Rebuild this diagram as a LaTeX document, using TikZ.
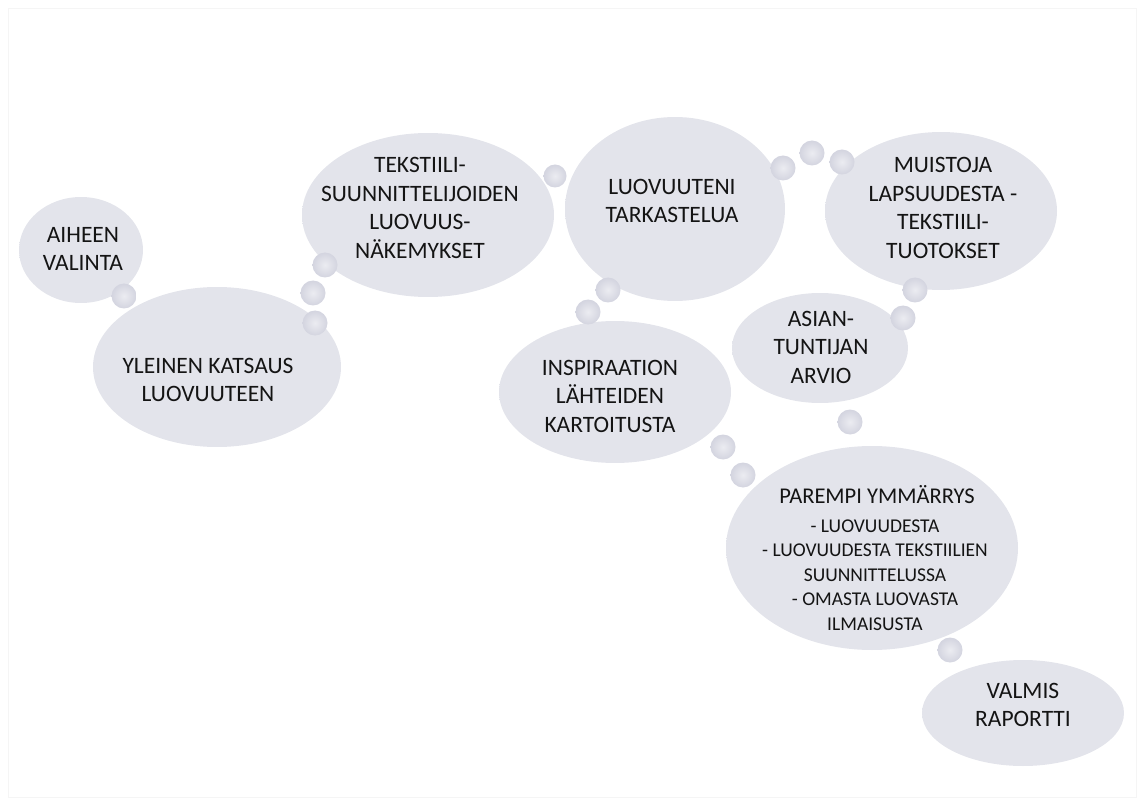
\documentclass[tikz,border=0pt]{standalone}
\usepackage{fontspec}
\setmainfont{Carlito}
\usetikzlibrary{shapes.geometric}
\definecolor{cloudc}{RGB}{219,220,229}
\definecolor{cloudl}{RGB}{227,228,235}
\definecolor{bubc}{RGB}{212,213,224}
\definecolor{txt}{RGB}{20,20,20}
\pgfdeclareradialshading{cloudsh}{\pgfpoint{0bp}{0bp}}{color(0bp)=(cloudl); color(26bp)=(cloudl); color(38bp)=(cloudc); color(44bp)=(cloudc!75!white); color(50bp)=(white); color(100bp)=(white)}
\pgfdeclareradialshading{bubsh}{\pgfpoint{0bp}{0bp}}{color(0bp)=(cloudl!70!white); color(24bp)=(bubc); color(40bp)=(bubc); color(50bp)=(white); color(100bp)=(white)}
\tikzset{
  cloudshape/.style={ellipse, shading=cloudsh, shade, draw=none, inner sep=0pt},
  bubble/.style={circle, shading=bubsh, shade, draw=none, minimum size=25pt, inner sep=0pt},
  lbl/.style={align=center, font=\fontsize{23.5}{28.5}\selectfont, text=txt, inner sep=0pt},
  sublbl/.style={align=center, font=\fontsize{19.5}{24.5}\selectfont, text=txt, inner sep=0pt},
  frame/.style={draw=black!4, line width=0.8pt}
}
\begin{document}
\begin{tikzpicture}[x=1pt, y=-1pt]
\useasboundingbox (0,0) rectangle (1144,805);
\draw[frame] (8,8) rectangle (1136,797);
% clouds
\node[cloudshape, minimum width=124pt, minimum height=106pt] (c1) at (81,250) {};
\node[cloudshape, minimum width=248pt, minimum height=160pt] (c2) at (217,367) {};
\node[cloudshape, minimum width=252pt, minimum height=164pt] (c3) at (428,215) {};
\node[cloudshape, minimum width=220pt, minimum height=184pt] (c4) at (675,209) {};
\node[cloudshape, minimum width=232pt, minimum height=158pt] (c5) at (941,211) {};
\node[cloudshape, minimum width=176pt, minimum height=110pt] (c6) at (820,348) {};
\node[cloudshape, minimum width=232pt, minimum height=142pt] (c7) at (615,392) {};
\node[cloudshape, minimum width=292pt, minimum height=204pt] (c8) at (872,548) {};
\node[cloudshape, minimum width=202pt, minimum height=106pt] (c9) at (1023,713) {};
% bubbles
\node[bubble] (b1) at (124,296) {};
\node[bubble] (b2) at (315,323) {};
\node[bubble] (b3) at (313,293) {};
\node[bubble] (b4) at (325,265) {};
\node[bubble, minimum size=23pt] (b5) at (555,176) {};
\node[bubble] (b6) at (783,168) {};
\node[bubble] (b7) at (812,153) {};
\node[bubble] (b8) at (842,162) {};
\node[bubble] (b9) at (915,290) {};
\node[bubble] (b10) at (903,318) {};
\node[bubble] (b11) at (608,290) {};
\node[bubble] (b12) at (588,312) {};
\node[bubble] (b13) at (850,422) {};
\node[bubble] (b14) at (723,447) {};
\node[bubble] (b15) at (743,475) {};
\node[bubble] (b16) at (950,650) {};
% texts
\node[lbl] (t1) at (83,249) {AIHEEN\\VALINTA};
\node[lbl] (t2) at (208,380) {YLEINEN KATSAUS\\LUOVUUTEEN};
\node[lbl] (t3) at (420,208) {TEKSTIILI-\\SUUNNITTELIJOIDEN\\LUOVUUS-\\NÄKEMYKSET};
\node[lbl] (t4) at (672,201) {LUOVUUTENI\\TARKASTELUA};
\node[lbl] (t5) at (943,208) {MUISTOJA\\LAPSUUDESTA -\\TEKSTIILI-\\TUOTOKSET};
\node[lbl] (t6) at (821,347) {ASIAN-\\TUNTIJAN\\ARVIO};
\node[lbl] (t7) at (610,396) {INSPIRAATION\\LÄHTEIDEN\\KARTOITUSTA};
\node[lbl, font=\fontsize{22.5}{27}\selectfont, anchor=base] (t8) at (877,503) {PAREMPI YMMÄRRYS};
\node[sublbl] (t8b) at (875,575) {- LUOVUUDESTA\\- LUOVUUDESTA TEKSTIILIEN\\SUUNNITTELUSSA\\- OMASTA LUOVASTA\\ILMAISUSTA};
\node[lbl] (t9) at (1023,705) {VALMIS\\RAPORTTI};
\end{tikzpicture}
\end{document}
